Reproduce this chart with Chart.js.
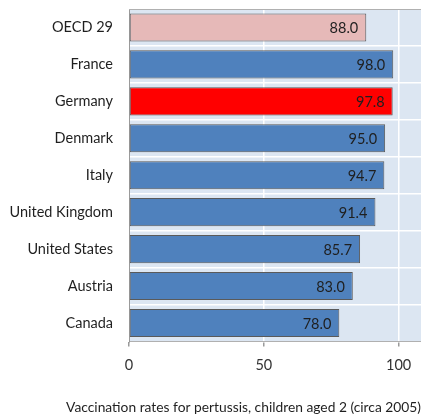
<!doctype html>
<html>
<head>
	<title>Pertussis vaccination</title>
	<script src="https://cdn.jsdelivr.net/npm/chart.js@4.4.1"></script>
	<style>
	* { margin: 0; padding: 0; }
	body { background: #fff; }
	</style>
</head>
<body>
	<canvas id="canvas_bar" width="421" height="419"></canvas>
<script type="text/javascript">
	var countries = ['OECD 29', 'France', 'Germany', 'Denmark', 'Italy', 'United Kingdom', 'United States', 'Austria', 'Canada'];
	var rates = [88.0, 98.0, 97.8, 95.0, 94.7, 91.4, 85.7, 83.0, 78.0];
	var xTicks = [0, 50, 100];
	var chartTitle = 'Vaccination rates for pertussis, children aged 2 (circa 2005)';

	var barColors = countries.map(function(c) {
		if (c === 'OECD 29') return '#E6B9B8';
		if (c === 'Germany') return '#FF0000';
		return '#4F81BD';
	});

	var fontName = 'Lato';

	// plot area background + top border
	var plotBg = {
		id: 'plotBg',
		beforeDraw: function(chart) {
			var a = chart.chartArea, ctx = chart.ctx;
			ctx.save();
			ctx.fillStyle = '#DCE6F2';
			ctx.fillRect(a.left, a.top, a.right - a.left, a.bottom - a.top);
			ctx.restore();
		},
		afterDraw: function(chart) {
			var a = chart.chartArea, ctx = chart.ctx;
			ctx.save();
			ctx.strokeStyle = '#B0B0B0';
			ctx.lineWidth = 1;
			ctx.beginPath();
			ctx.moveTo(a.left, a.top + 0.5);
			ctx.lineTo(a.right, a.top + 0.5);
			ctx.stroke();
			ctx.restore();
		}
	};

	// value labels inside the end of each bar
	var valueLabels = {
		id: 'valueLabels',
		afterDatasetsDraw: function(chart) {
			var ctx = chart.ctx;
			var meta = chart.getDatasetMeta(0);
			ctx.save();
			ctx.font = '14.5px ' + fontName;
			ctx.fillStyle = '#1F1F1F';
			ctx.textAlign = 'right';
			ctx.textBaseline = 'middle';
			meta.data.forEach(function(bar, i) {
				ctx.fillText(rates[i].toFixed(1), bar.x - 8, bar.y + 1);
			});
			ctx.restore();
		}
	};

	var bar_config = {
		type: 'bar',
		data: {
			labels: countries,
			datasets: [{
				data: rates,
				backgroundColor: barColors,
				borderColor: '#5A5A5A',
				borderWidth: 1,
				borderSkipped: false,
				barPercentage: 0.76,
				categoryPercentage: 1.0
			}]
		},
		options: {
			indexAxis: 'y',
			responsive: false,
			animation: false,
			devicePixelRatio: 1,
			layout: {
				padding: { top: 9, right: 0, left: 0, bottom: 0 }
			},
			scales: {
				x: {
					min: 0,
					max: 108.3,
					afterBuildTicks: function(s) {
						s.ticks = xTicks.map(function(v) { return { value: v }; });
					},
					afterFit: function(s) {
						s.height = 48;
						s.paddingLeft = 0;
						s.paddingRight = 0;
					},
					grid: {
						color: '#FFFFFF',
						lineWidth: 1.5,
						tickColor: '#9A9A9A',
						tickLength: 5,
						drawTicks: true
					},
					border: { color: '#B0B0B0' },
					ticks: {
						color: '#333333',
						padding: 10,
						font: { family: fontName, size: 14.5 }
					}
				},
				y: {
					afterFit: function(s) {
						s.width = 129;
						s.paddingTop = 0;
						s.paddingBottom = 0;
					},
					grid: {
						color: '#FFFFFF',
						lineWidth: 1.5,
						offset: true,
						drawTicks: false
					},
					border: { color: '#9A9A9A' },
					ticks: {
						color: '#1F1F1F',
						padding: 16,
						font: { family: fontName, size: 14.5 }
					}
				}
			},
			plugins: {
				legend: { display: false },
				tooltip: { enabled: false },
				title: {
					display: true,
					text: chartTitle,
					position: 'bottom',
					align: 'end',
					color: '#1F1F1F',
					padding: { top: 10, bottom: 3 },
					font: { family: fontName, size: 13.8, weight: 'normal' }
				}
			}
		},
		plugins: [plotBg, valueLabels]
	};

	var bar_Chart = new Chart(document.getElementById('canvas_bar'), bar_config);
</script>
</body>
</html>
